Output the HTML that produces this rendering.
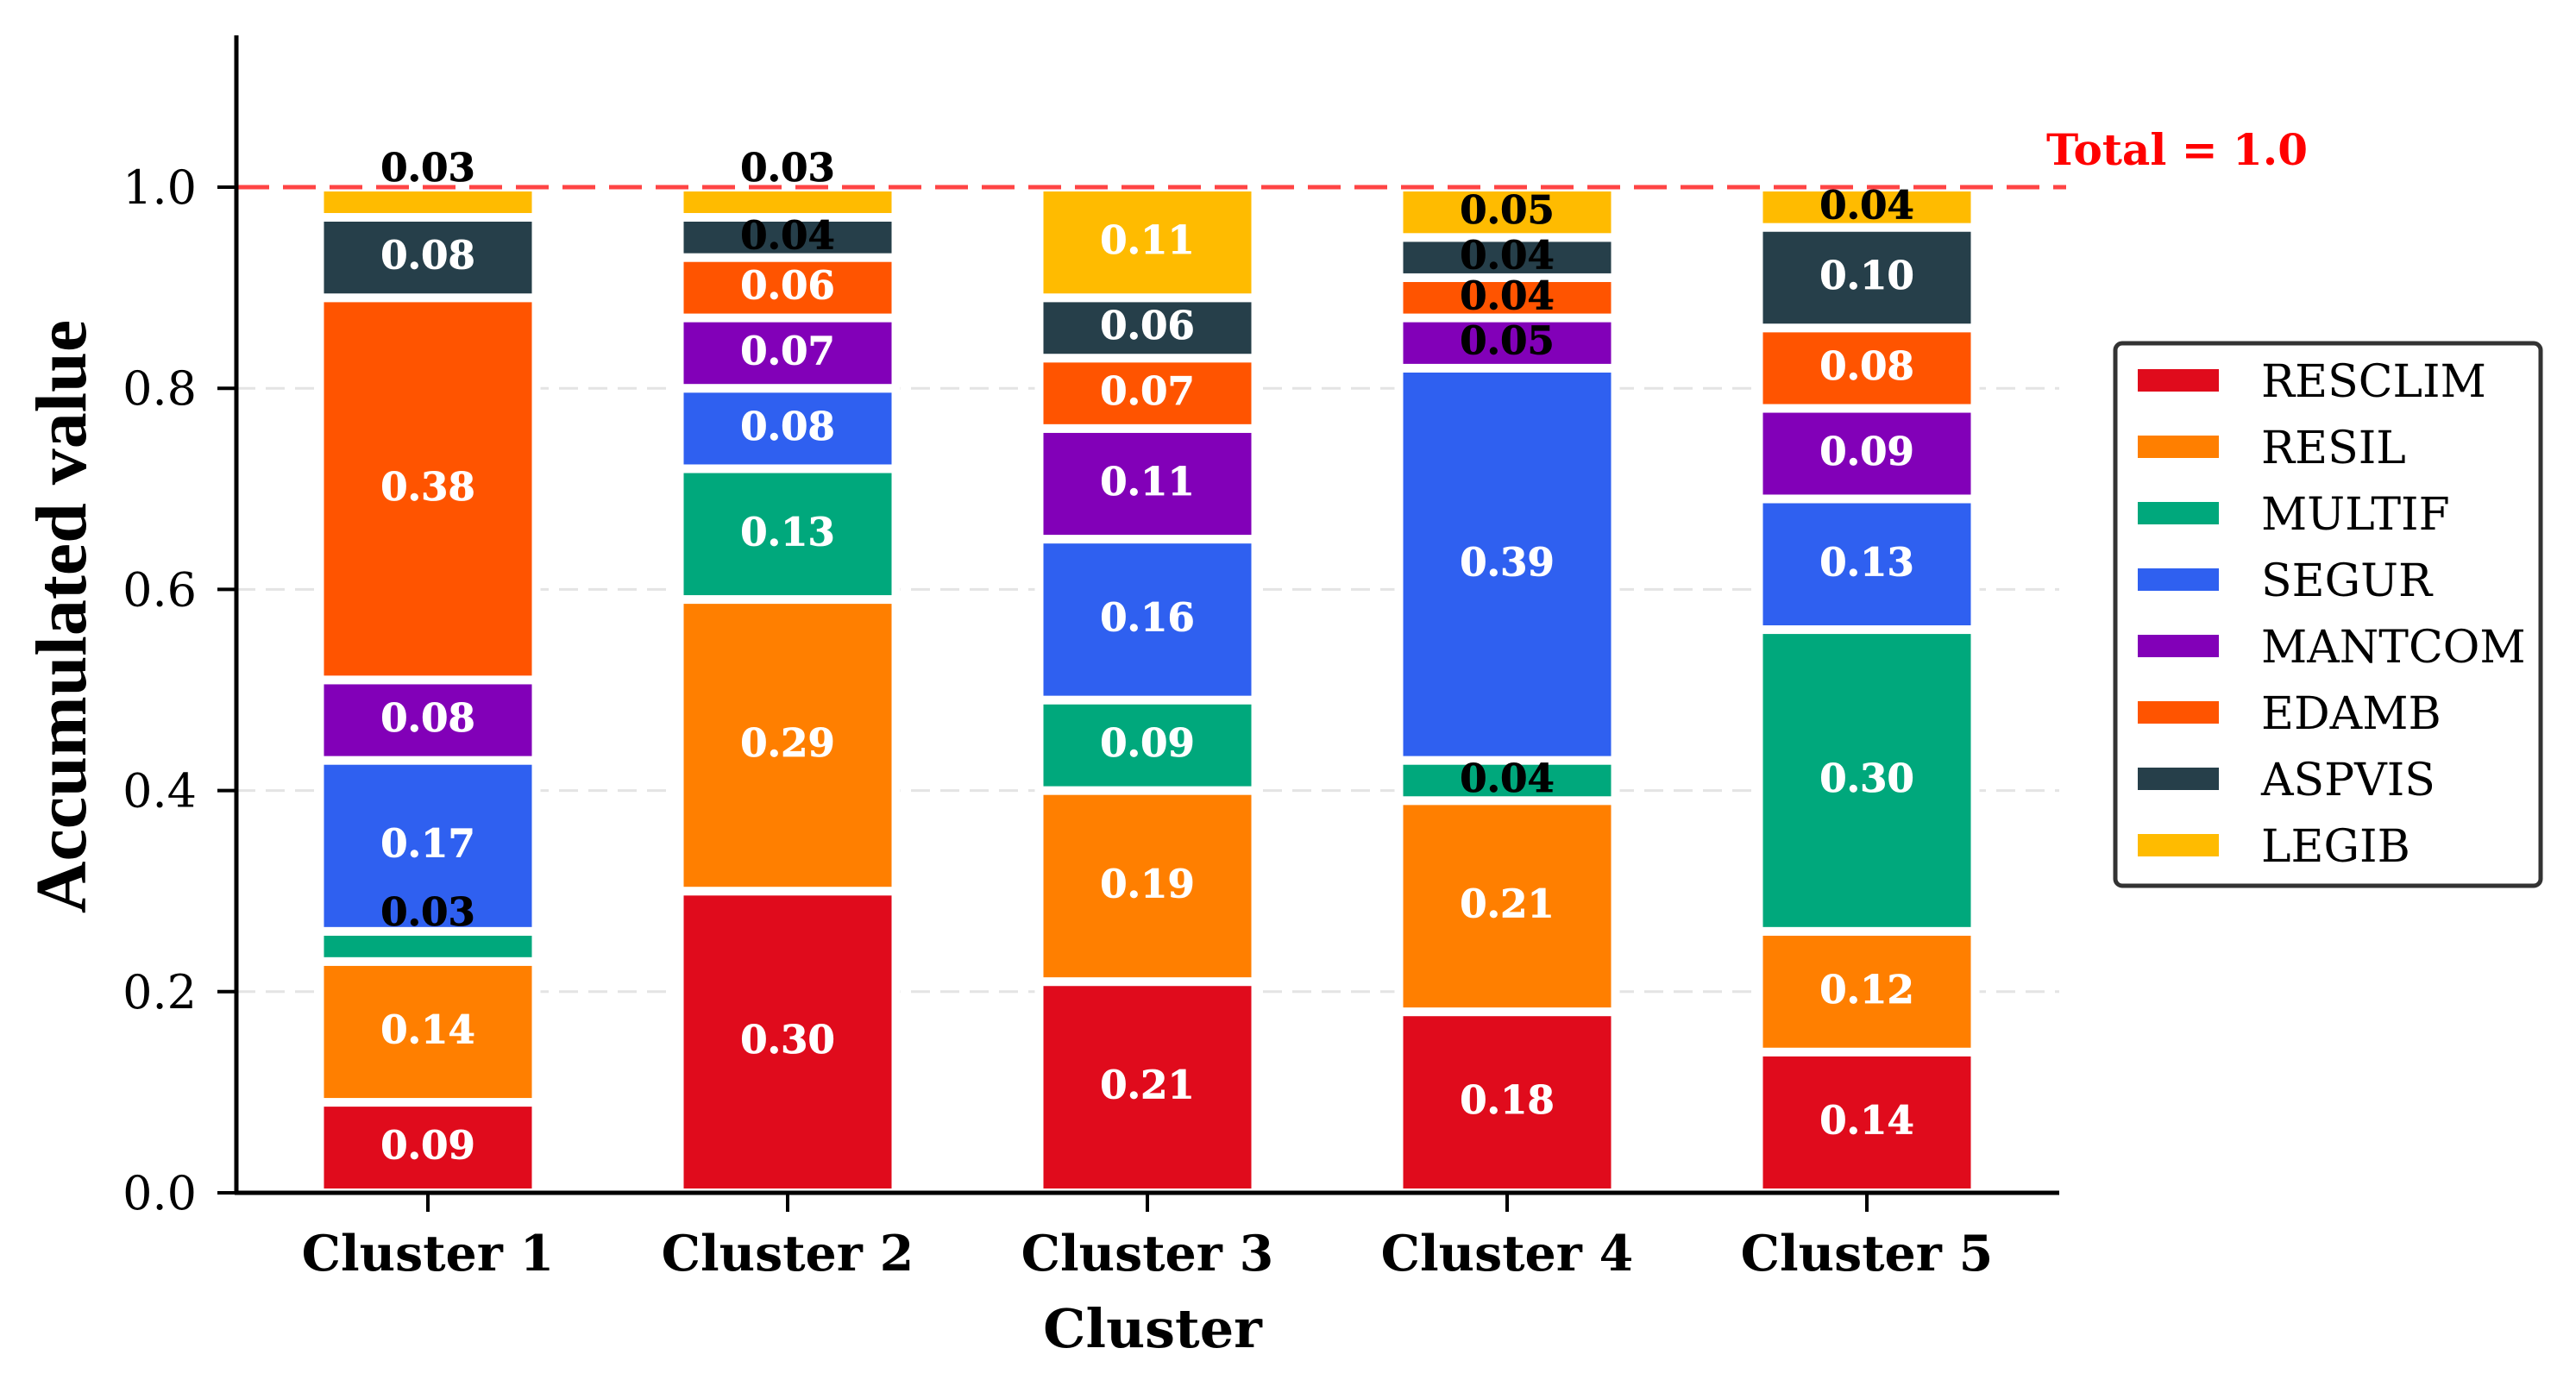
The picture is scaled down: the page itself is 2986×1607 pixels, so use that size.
<!DOCTYPE html>
<html><head><meta charset="utf-8"><style>
html,body{margin:0;padding:0;background:#fff;}
svg{display:block;}
text{font-family:"DejaVu Serif","Liberation Serif",serif;}
</style></head><body>
<svg id="chart" xmlns="http://www.w3.org/2000/svg" width="2986" height="1607" viewBox="0 0 2986 1607">
<rect x="0" y="0" width="2986" height="1607" fill="#fff"/>
<g id="grid"></g>
<g id="bars"></g>
<g id="labels"></g>
<g id="axes"></g>
<g id="legend"></g>
</svg>
<script>
const categories = ["Cluster 1","Cluster 2","Cluster 3","Cluster 4","Cluster 5"];
const seriesNames = ["RESCLIM","RESIL","MULTIF","SEGUR","MANTCOM","EDAMB","ASPVIS","LEGIB"];
const seriesColors = ["#e00b1c","#ff7f00","#00a87c","#2f60f0","#8200b8","#ff5400","#263f4a","#ffbb00"];
const RESCLIM = [0.09,0.30,0.21,0.18,0.14];
const RESIL   = [0.14,0.29,0.19,0.21,0.12];
const MULTIF  = [0.03,0.13,0.09,0.04,0.30];
const SEGUR   = [0.17,0.08,0.16,0.39,0.13];
const MANTCOM = [0.08,0.07,0.11,0.05,0.09];
const EDAMB   = [0.38,0.06,0.07,0.04,0.08];
const ASPVIS  = [0.08,0.04,0.06,0.04,0.10];
const LEGIB   = [0.03,0.03,0.11,0.05,0.04];
const seriesValues = [RESCLIM,RESIL,MULTIF,SEGUR,MANTCOM,EDAMB,ASPVIS,LEGIB];
const yTicks = [0.0,0.2,0.4,0.6,0.8,1.0];
const yTickLabels = ["0.0","0.2","0.4","0.6","0.8","1.0"];
const totalLine = 1.0;

const NS="http://www.w3.org/2000/svg";
const X0=274, X1=2387, Y0=1383, PPU=1166, C0=496, STEP=417, BW=241;
const yS=v=>Y0-v*PPU;
const xS=i=>C0+i*STEP;
function mk(tag,attrs,parent,txt){const e=document.createElementNS(NS,tag);for(const k in attrs)e.setAttribute(k,attrs[k]);if(txt!==undefined)e.textContent=txt;parent.appendChild(e);return e;}
const gGrid=document.getElementById('grid'),gBars=document.getElementById('bars'),gLab=document.getElementById('labels'),gAx=document.getElementById('axes'),gLeg=document.getElementById('legend');

yTicks.forEach((t,i)=>{
  if(t>0 && t<1){
    const l=mk('line',{x1:X0,x2:X1,y1:yS(t),y2:yS(t),stroke:'#e4e4e4','stroke-width':3,'stroke-dasharray':'22 12'},gGrid);
    
    
  }
});

categories.forEach((c,i)=>{
  let base=0;
  seriesValues.forEach((arr,s)=>{
    const v=arr[i];
    const r=mk('rect',{x:xS(i)-BW/2-5,y:yS(base+v),width:BW+10,height:v*PPU,fill:seriesColors[s],stroke:'#fff','stroke-width':10},gBars);
    
    
    let ly=base+v/2;
    if(v<0.035) ly+=0.032;
    const dark=v<=0.05;
    const t=mk('text',{x:xS(i),y:yS(ly)+13,'text-anchor':'middle','font-size':45,'font-weight':'bold',fill:dark?'#000':'#fff',stroke:dark?'#000':'#fff','stroke-width':0.8},gLab,v.toFixed(2));
    
    
    base+=v;
  });
});

const tl=mk('line',{x1:X0,x2:2395,y1:yS(totalLine),y2:yS(totalLine),stroke:'#ff4444','stroke-width':5,'stroke-dasharray':'38 16'},gAx);


const tt=mk('text',{x:2372,y:191,'font-size':50,'font-weight':'bold',fill:'#ff0000'},gAx,'Total = '+totalLine.toFixed(1));



const ya=mk('line',{x1:X0,x2:X0,y1:41,y2:Y0+2,stroke:'#000','stroke-width':5},gAx);


const xa=mk('line',{x1:X0-2,x2:X1,y1:Y0,y2:Y0,stroke:'#000','stroke-width':5},gAx);


yTicks.forEach((t,i)=>{
  mk('line',{x1:X0-22,x2:X0,y1:yS(t),y2:yS(t),stroke:'#000','stroke-width':4},gAx);
  const lb=mk('text',{x:228,y:yS(t)+19,'text-anchor':'end','font-size':54,fill:'#000'},gAx,yTickLabels[i]);
  
  
});
categories.forEach((c,i)=>{
  mk('line',{x1:xS(i),x2:xS(i),y1:Y0,y2:Y0+22,stroke:'#000','stroke-width':4},gAx);
  const lb=mk('text',{x:xS(i),y:1473,'text-anchor':'middle','font-size':57,'font-weight':'bold',fill:'#000'},gAx,c);
  
  
});
const yt=mk('text',{x:0,y:0,transform:'translate(99,715) rotate(-90)','text-anchor':'middle','font-size':84,'font-weight':'bold',fill:'#000',style:'font-family:"Liberation Serif",serif'},gAx,'Accumulated value');


const xt=mk('text',{x:1336,y:1562,'text-anchor':'middle','font-size':62,'font-weight':'bold',fill:'#000'},gAx,'Cluster');



const lbx=mk('rect',{x:2452,y:398,width:493,height:629,rx:8,fill:'#fff',stroke:'#333','stroke-width':5},gLeg);


seriesNames.forEach((n,s)=>{
  const cy=441+s*77;
  const g=mk('g',{},gLeg);
  
  
  mk('rect',{x:2478,y:cy-13,width:94,height:26,fill:seriesColors[s]},g);
  mk('text',{x:2621,y:cy+19,'font-size':52,fill:'#000'},g,n);
});
</script>
</body></html>
